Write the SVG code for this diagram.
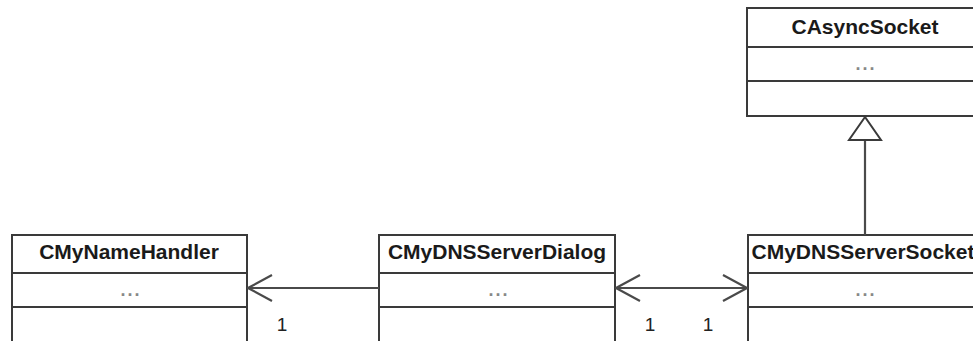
<svg xmlns="http://www.w3.org/2000/svg" width="973" height="341" viewBox="0 0 973 341">
<style>
.box{fill:#fff;stroke:#3a3a3a;stroke-width:2}
.sep{stroke:#3a3a3a;stroke-width:2}
.title{font-family:"Liberation Sans",Arial,sans-serif;font-weight:bold;font-size:21px;fill:#1a1a1a;text-anchor:middle}
.dots{font-family:"Liberation Sans",Arial,sans-serif;font-size:18px;font-weight:bold;fill:#888;text-anchor:middle;letter-spacing:2px}
.mult{font-family:"Liberation Sans",Arial,sans-serif;font-size:19px;fill:#222;text-anchor:middle}
.conn{stroke:#4a4a4a;stroke-width:2.2;fill:none}
</style>
<defs>
<marker id="open" viewBox="0 0 26 28" refX="25" refY="14" markerWidth="26" markerHeight="28" markerUnits="userSpaceOnUse" orient="auto-start-reverse">
<path d="M1,1 L25,14 L1,27" fill="none" stroke="#4a4a4a" stroke-width="2.2"/>
</marker>
</defs>
<rect width="973" height="341" fill="#fff"/>
<g id="CAsyncSocket">
<rect class="box" x="747" y="8" width="236" height="108"/>
<line class="sep" x1="747" y1="47" x2="983" y2="47"/>
<line class="sep" x1="747" y1="81" x2="983" y2="81"/>
<text class="title" x="865" y="34">CAsyncSocket</text>
<text class="dots" x="866" y="70">...</text>
</g>
<g id="CMyNameHandler">
<rect class="box" x="12" y="235" width="235" height="108"/>
<line class="sep" x1="12" y1="273" x2="247" y2="273"/>
<line class="sep" x1="12" y1="307" x2="247" y2="307"/>
<text class="title" x="129" y="259">CMyNameHandler</text>
<text class="dots" x="131" y="296">...</text>
</g>
<g id="CMyDNSServerDialog">
<rect class="box" x="379" y="235" width="236" height="108"/>
<line class="sep" x1="379" y1="273" x2="615" y2="273"/>
<line class="sep" x1="379" y1="307" x2="615" y2="307"/>
<text class="title" x="497" y="259">CMyDNSServerDialog</text>
<text class="dots" x="499" y="296">...</text>
</g>
<g id="CMyDNSServerSocket">
<rect class="box" x="748" y="235" width="236" height="108"/>
<line class="sep" x1="748" y1="273" x2="984" y2="273"/>
<line class="sep" x1="748" y1="307" x2="984" y2="307"/>
<text class="title" x="863" y="259">CMyDNSServerSocket</text>
<text class="dots" x="866" y="296">...</text>
</g>
<g id="connectors">
<line class="conn" x1="379" y1="288" x2="248" y2="288" marker-end="url(#open)"/>
<line class="conn" x1="616" y1="288" x2="747" y2="288" marker-start="url(#open)" marker-end="url(#open)"/>
<line class="conn" x1="865" y1="140" x2="865" y2="235"/>
<path d="M865,117 L849,140 L881,140 Z" fill="#fff" stroke="#3a3a3a" stroke-width="2"/>
<text class="mult" x="282" y="331">1</text>
<text class="mult" x="650" y="331">1</text>
<text class="mult" x="708" y="331">1</text>
</g>
</svg>
